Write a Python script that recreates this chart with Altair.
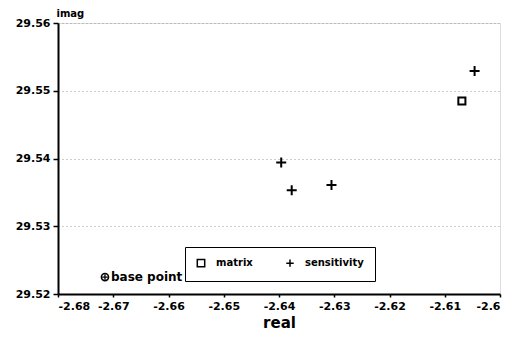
import altair as alt
import pandas as pd

series = ["sensitivity", "sensitivity", "sensitivity", "sensitivity", "matrix"]
real = [-2.6396, -2.6377, -2.6305, -2.6046, -2.6069]
imag = [29.5394, 29.5353, 29.5361, 29.5529, 29.5485]

base_real = [-2.6715]
base_imag = [29.5225]
base_label = ["base point"]

x_ticks = [-2.68, -2.67, -2.66, -2.65, -2.64, -2.63, -2.62, -2.61, -2.6]
y_ticks = [29.52, 29.53, 29.54, 29.55, 29.56]

df = pd.DataFrame({"real": real, "imag": imag, "series": series})
bdf = pd.DataFrame({"real": base_real, "imag": base_imag, "label": base_label})

FONT = "DejaVu Sans"
PLUS = "M-1,0L1,0M0,-1L0,1"

xs = alt.Scale(domain=[-2.68, -2.6], nice=False, zero=False)
ys = alt.Scale(domain=[29.52, 29.56], nice=False, zero=False)

xax = alt.Axis(values=x_ticks, format=".2~f", grid=False, title="real",
               labelExpr="replace(datum.label, '\u2212', '-')",
               titleFontSize=15, titleFont=FONT, titleFontWeight="bold",
               labelFont=FONT, labelFontWeight="bold", labelFontSize=11,
               labelColor="black", titleColor="black", domainColor="black",
               domainWidth=2, tickColor="black", tickSize=3, tickWidth=1.5,
               labelPadding=3, titlePadding=4)
yax = alt.Axis(values=y_ticks, format=".2f", grid=True, gridColor="#9a9a9a",
               gridDash=[1, 3], gridWidth=1, title="imag", titleAngle=0,
               titleAnchor="end", titleAlign="left", titleBaseline="bottom",
               titleX=-2, titleY=-5, titleFont=FONT, titleFontWeight="bold",
               titleFontSize=10, titleColor="black",
               labelFont=FONT, labelFontWeight="bold", labelFontSize=11,
               labelColor="black", domainColor="black", domainWidth=2,
               tickColor="black", tickSize=5, tickWidth=1.5, labelPadding=3)

pts = alt.Chart(df).mark_point(filled=False, strokeWidth=2, opacity=1).encode(
    x=alt.X("real:Q", scale=xs, axis=xax),
    y=alt.Y("imag:Q", scale=ys, axis=yax),
    shape=alt.Shape("series:N",
                    scale=alt.Scale(domain=["matrix", "sensitivity"], range=["square", PLUS]),
                    legend=alt.Legend(orient="none", legendX=127, legendY=224,
                                      direction="horizontal", title=None,
                                      strokeColor="black", fillColor="white",
                                      padding=11, labelFont=FONT, labelFontWeight="bold",
                                      labelFontSize=10, labelColor="black",
                                      symbolStrokeColor="black", symbolStrokeWidth=1.5,
                                      symbolSize=55, columnPadding=30, labelOffset=10)),
    size=alt.condition(alt.datum.series == "matrix", alt.value(50), alt.value(100)),
    color=alt.value("black"),
)

base_c = alt.Chart(bdf).mark_point(shape="circle", filled=False, size=50, strokeWidth=1.6, color="black", opacity=1).encode(
    x=alt.X("real:Q", scale=xs), y=alt.Y("imag:Q", scale=ys))
base_p = alt.Chart(bdf).mark_point(shape=PLUS, filled=False, size=30, strokeWidth=1.3, color="black", opacity=1).encode(
    x=alt.X("real:Q", scale=xs), y=alt.Y("imag:Q", scale=ys))
base_t = alt.Chart(bdf).mark_text(align="left", baseline="middle", dx=6, font=FONT,
                                  fontWeight="bold", fontSize=12, color="black").encode(
    x=alt.X("real:Q", scale=xs), y=alt.Y("imag:Q", scale=ys), text="label:N")

chart = alt.layer(pts, base_c, base_p, base_t).properties(
    width=442, height=271,
    autosize=alt.AutoSizeParams(type="none"),
    padding={"left": 50, "top": 15, "right": 10, "bottom": 40},
).configure_view(stroke="black", strokeWidth=2).configure(background="white")

chart.save("out.html", embed_options={"renderer": "svg", "actions": False})
